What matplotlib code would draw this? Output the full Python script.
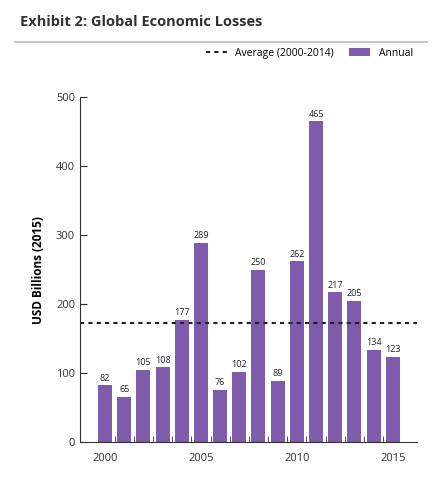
import matplotlib.pyplot as plt
from matplotlib.lines import Line2D

years = list(range(2000, 2016))
losses = [82, 65, 105, 108, 177, 289, 76, 102, 250, 89, 262, 465, 217, 205, 134, 123]
average = 173
label_years = [2000, 2005, 2010, 2015]

purple = "#7f5bab"
plt.rcParams["font.family"] = ["Open Sans", "DejaVu Sans"]

fig = plt.figure(figsize=(4.42, 4.96), dpi=100)
fig.text(0.045, 0.955, "Exhibit 2: Global Economic Losses", fontsize=10.5,
         fontweight="bold", color="#333333", va="center")
fig.add_artist(Line2D([0.035, 0.965], [0.915, 0.915], color="#bbbbbb", lw=1.2))

ax = fig.add_axes([0.181, 0.109, 0.762, 0.695])
bars = ax.bar(years, losses, width=0.73, color=purple, label="Annual")
ax.axhline(average, color="#222222", ls=(0, (2, 2)), lw=1.5, label="Average (2000-2014)")
for y, v in zip(years, losses):
    ax.text(y, v + 4, str(v), ha="center", va="bottom", fontsize=6.5, color="#222222")

ax.set_xlim(1998.7, 2016.25)
ax.set_ylim(0, 500)
ax.set_yticks([0, 100, 200, 300, 400, 500])
ax.set_xticks(label_years)
ax.set_xticks([y + 0.5 for y in years[:-1]], minor=True)
ax.tick_params(axis="x", which="major", length=0, labelsize=8, pad=8, colors="#333333")
ax.tick_params(axis="x", which="minor", direction="in", length=4, color="#333333")
ax.tick_params(axis="y", direction="in", length=5, labelsize=8, colors="#333333")
for s in ["top", "right"]:
    ax.spines[s].set_visible(False)
for s in ["left", "bottom"]:
    ax.spines[s].set_color("#333333")
ax.set_ylabel("USD Billions (2015)", fontsize=8.5, fontweight="bold", labelpad=8)

ax.legend(loc="lower right", bbox_to_anchor=(1.0, 1.1), ncol=2, frameon=False,
          fontsize=7.5, handlelength=2.0, columnspacing=1.5, borderaxespad=0)

fig.savefig("out.png", dpi=100)
